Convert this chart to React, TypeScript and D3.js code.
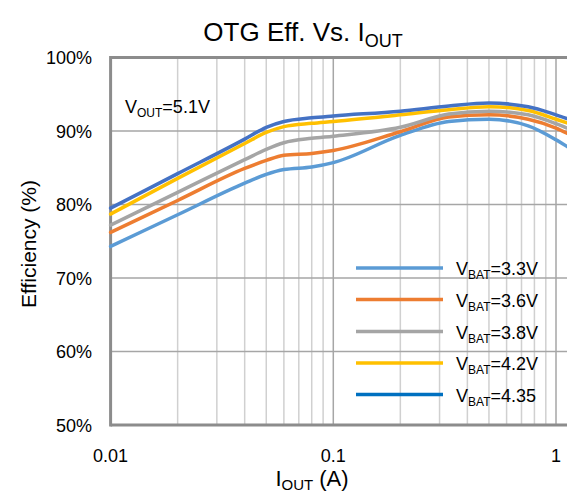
import React from "react";
import * as d3 from "d3";

const currents = [0.01, 0.02, 0.04, 0.05, 0.06, 0.08, 0.1, 0.2, 0.33, 0.5, 0.75, 1.0, 1.12];
const eff33 = [74.3, 78.6, 82.9, 84.1, 84.75, 85.1, 85.7, 89.4, 91.3, 91.6, 90.7, 88.8, 87.9];
const eff36 = [76.2, 80.55, 84.9, 86.0, 86.7, 86.95, 87.35, 89.9, 91.9, 92.2, 91.6, 90.4, 89.7];
const eff38 = [77.2, 81.65, 86.1, 87.5, 88.4, 89.0, 89.3, 90.5, 92.3, 92.7, 92.2, 91.0, 90.4];
const eff42 = [78.7, 83.55, 88.3, 89.8, 90.6, 91.05, 91.3, 92.2, 92.9, 93.3, 92.8, 91.6, 91.1];
const eff435 = [79.5, 84.2, 88.9, 90.5, 91.3, 91.8, 92.05, 92.7, 93.4, 93.8, 93.3, 92.2, 91.7];

const seriesNames = ["3.3V", "3.6V", "3.8V", "4.2V", "4.35"];
const seriesValues = [eff33, eff36, eff38, eff42, eff435];
const seriesColors = ["#5b9bd5", "#ed7d31", "#a5a5a5", "#ffc000", "#4472c4"];
const legendColors = ["#5b9bd5", "#ed7d31", "#a5a5a5", "#ffc000", "#0070c0"];

const yTicks = [50, 60, 70, 80, 90, 100];
const xTickLabels = ["0.01", "0.1", "1"];
const xTickValues = [0.01, 0.1, 1];

const FONT = "'Liberation Sans Narrow', 'Arial Narrow', 'Liberation Sans', Arial, sans-serif";

export default function App() {
  const W = 567, H = 492;
  const left = 110.6, top = 57.5, bottom = 425;
  const x = d3.scaleLog().domain([0.01, 1]).range([left, 556]);
  const y = d3.scaleLinear().domain([50, 100]).range([bottom, top]);
  const right = x(1.2);

  const minor: number[] = [];
  for (const dec of [0.01, 0.1, 1]) {
    for (let k = 2; k <= 9; k++) {
      const v = dec * k;
      if (x(v) < W + 5) minor.push(v);
    }
  }

  const line = d3
    .line<[number, number]>()
    .x((d) => x(d[0]))
    .y((d) => y(d[1]))
    .curve(d3.curveMonotoneX);

  const legendY = [268, 299.5, 331.5, 363, 394.5];

  return (
    <svg width={W} height={H} style={{ position: "absolute", left: 0, top: 0, background: "#fff" }} fontFamily={FONT}>
      <rect x={0} y={0} width={W} height={H} fill="#fff" />
      {minor.map((v) => (
        <line key={"m" + v} x1={x(v)} x2={x(v)} y1={top} y2={bottom} stroke="#d0d0d0" strokeWidth={1.5} />
      ))}
      {xTickValues.map((v) => (
        <line key={"M" + v} x1={x(v)} x2={x(v)} y1={top} y2={bottom} stroke="#a6a6a6" strokeWidth={1.5} />
      ))}
      {yTicks.map((v) => (
        <line key={"h" + v} x1={left} x2={right} y1={y(v)} y2={y(v)} stroke="#a6a6a6" strokeWidth={1.5} />
      ))}
      <line x1={left} x2={right} y1={top} y2={top} stroke="#8c8c8c" strokeWidth={3} />
      <line x1={left} x2={right} y1={bottom} y2={bottom} stroke="#8c8c8c" strokeWidth={3} />
      <line x1={left} x2={left} y1={top - 1.5} y2={bottom + 1.5} stroke="#8c8c8c" strokeWidth={3} />

      {seriesValues.map((vals, i) => (
        <path
          key={"s" + i}
          d={line(currents.map((c, j) => [c, vals[j]] as [number, number])) || ""}
          fill="none"
          stroke={seriesColors[i]}
          strokeWidth={3.5}
          strokeLinecap="round"
        />
      ))}

      {yTicks.map((v) => (
        <text key={"yt" + v} x={92} y={y(v) + 6.5} textAnchor="end" fontSize={18} fill="#000">
          {v + "%"}
        </text>
      ))}
      {xTickValues.map((v, i) => (
        <text key={"xt" + v} x={x(v)} y={462} textAnchor="middle" fontSize={18} fill="#000">
          {xTickLabels[i]}
        </text>
      ))}

      <text x={303} y={41} textAnchor="middle" fontSize={26} fill="#000">
        OTG Eff. Vs. I<tspan fontSize={18} dy={6}>OUT</tspan>
      </text>

      <text x={312} y={486} textAnchor="middle" fontSize={22} fill="#000">
        I<tspan fontSize={15} dy={4}>OUT</tspan>
        <tspan dy={-4}> (A)</tspan>
      </text>
      <text transform="translate(36,244) rotate(-90)" textAnchor="middle" fontSize={21} fill="#000">
        Efficiency (%)
      </text>

      <text x={125} y={113} fontSize={18} fill="#000">
        V<tspan fontSize={12} dy={4}>OUT</tspan>
        <tspan dy={-4}>=5.1V</tspan>
      </text>

      {seriesNames.map((n, i) => (
        <g key={"l" + i}>
          <line x1={356} x2={443} y1={legendY[i]} y2={legendY[i]} stroke={legendColors[i]} strokeWidth={3.5} />
          <text x={456} y={legendY[i] + 7} fontSize={18} fill="#000">
            V<tspan fontSize={12} dy={4}>BAT</tspan>
            <tspan dy={-4}>{"=" + n}</tspan>
          </text>
        </g>
      ))}
    </svg>
  );
}
